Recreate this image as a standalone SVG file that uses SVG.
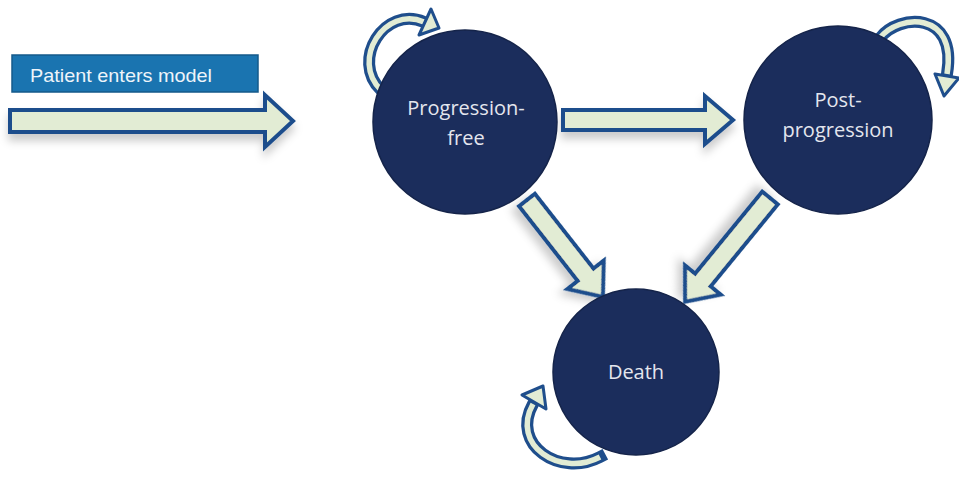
<svg xmlns="http://www.w3.org/2000/svg" width="959" height="478" viewBox="0 0 959 478">
<defs>
<filter id="sh" x="-20%" y="-30%" width="140%" height="180%">
<feDropShadow dx="0" dy="7" stdDeviation="4" flood-color="#000" flood-opacity="0.2"/>
</filter>
<style>
.blk{fill:#e2ecd4;stroke:#1f4e8c;stroke-width:4;stroke-linejoin:miter}
.hd{fill:#e2ecd4;stroke:#1f4e8c;stroke-width:3;stroke-linejoin:round}
.band-o{fill:none;stroke:#1f4e8c;stroke-width:12;stroke-linecap:square}
.band-i{fill:none;stroke:#e2ecd4;stroke-width:5.5}
.node{fill:#1b2d5c;stroke:#15244a;stroke-width:1.5}
.lbl{font-family:"Open Sans","Noto Sans",sans-serif;font-size:20px;fill:#e4e6ee;text-anchor:middle}
</style>
</defs>
<rect width="959" height="478" fill="#ffffff"/>

<g id="entry">
<rect x="12" y="55" width="246" height="37" fill="#1a74b0" stroke="#155a8a" stroke-width="1.5"/>
<text x="30" y="82" font-family="'Liberation Sans',Arial,sans-serif" font-size="19" fill="#eef4fa" textLength="182" lengthAdjust="spacingAndGlyphs">Patient enters model</text>
</g>

<g id="connectors">
<polygon class="blk" filter="url(#sh)" transform="translate(10,121)" points="0,-11 255,-11 255,-26 283,0 255,26 255,11 0,11"/>
<polygon class="blk" filter="url(#sh)" transform="translate(563,120)" points="0,-10 142,-10 142,-24 170,0 142,24 142,10 0,10"/>
<polygon class="blk" filter="url(#sh)" transform="translate(527,200) rotate(51.9)" points="0,-10 95,-10 95,-23 123,0 95,23 95,10 0,10"/>
<polygon class="blk" filter="url(#sh)" transform="translate(770,198) rotate(129.3)" points="0,-10 106,-10 106,-23 134,0 106,23 106,10 0,10"/>

<g id="loop-pf">
<path class="band-o" d="M381,90 C350,60 385,5 424,22"/>
<path class="band-i" d="M381,90 C350,60 385,5 424,22"/>
<polygon class="hd" points="419,35 431,9 439,28"/>
</g>
<g id="loop-pp">
<path class="band-o" d="M880,38 C898,14 958,10 947,74"/>
<path class="band-i" d="M880,38 C898,14 958,10 947,74"/>
<polygon class="hd" points="935,74 959,78 944,96"/>
</g>
<g id="loop-death">
<path class="band-o" d="M600,457 C560,478 510,445 533,404"/>
<path class="band-i" d="M600,457 C560,478 510,445 533,404"/>
<polygon class="hd" points="522,395 546,409 543,386"/>
</g>
</g>

<g id="progression-free">
<circle class="node" cx="465" cy="122" r="92"/>
<text class="lbl" x="466" y="115">Progression-</text>
<text class="lbl" x="466" y="145">free</text>
</g>

<g id="post-progression">
<circle class="node" cx="838" cy="120" r="94"/>
<text class="lbl" x="838" y="107">Post-</text>
<text class="lbl" x="838" y="137">progression</text>
</g>

<g id="death">
<circle class="node" cx="636" cy="372" r="83"/>
<text class="lbl" x="636" y="379">Death</text>
</g>
</svg>
